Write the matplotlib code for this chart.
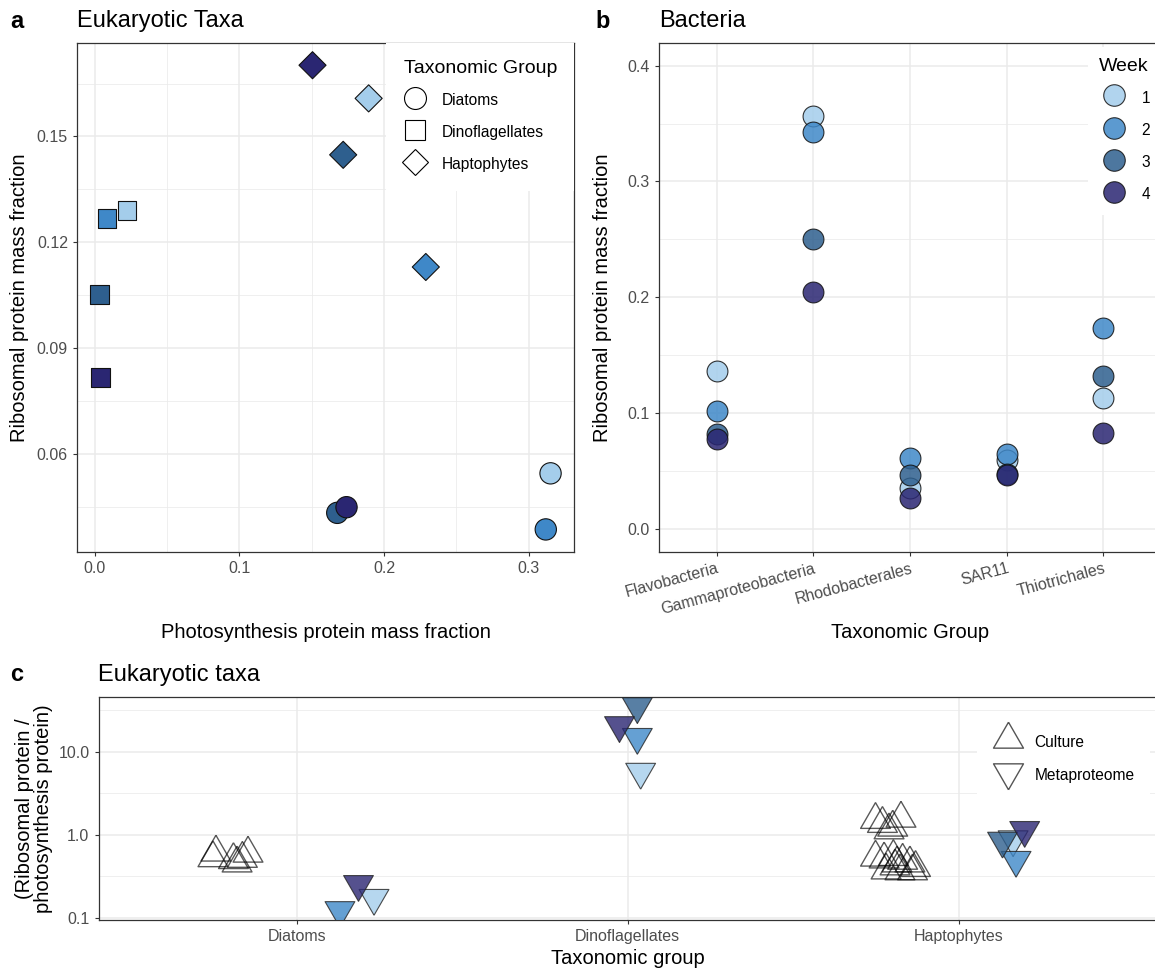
import matplotlib
matplotlib.use("Agg")
import matplotlib.pyplot as plt
from matplotlib.lines import Line2D
from matplotlib.ticker import FixedLocator, NullFormatter

plt.rcParams['font.family'] = ['Liberation Sans', 'DejaVu Sans']

W, H = 1155, 969

week_names = ['1', '2', '3', '4']
week_colors = ['#a4cdeb', '#3f88c8', '#2e5f8e', '#2a2672']

# panel a: eukaryotic taxa (photosynthesis vs ribosomal protein mass fraction)
diatom_photo = [0.1676, 0.1740, 0.3150, 0.3117]
diatom_ribo = [0.0433, 0.0449, 0.0545, 0.0386]
diatom_week = [3, 4, 1, 2]
dino_photo = [0.0084, 0.0224, 0.0031, 0.0038]
dino_ribo = [0.1268, 0.1290, 0.1052, 0.0816]
dino_week = [2, 1, 3, 4]
hapto_photo = [0.1505, 0.1893, 0.1717, 0.2288]
hapto_ribo = [0.1702, 0.1608, 0.1448, 0.1130]
hapto_week = [4, 1, 3, 2]

# panel b: bacteria
bact_groups = ['Flavobacteria', 'Gammaproteobacteria', 'Rhodobacterales', 'SAR11', 'Thiotrichales']
bact_week1 = [0.1359, 0.3568, 0.0353, 0.0590, 0.1129]
bact_week2 = [0.1020, 0.3427, 0.0609, 0.0647, 0.1733]
bact_week3 = [0.0815, 0.2502, 0.0460, 0.0474, 0.1322]
bact_week4 = [0.0775, 0.2049, 0.0264, 0.0460, 0.0825]

# panel c: ratio ribosomal / photosynthesis, culture vs metaproteome
euk_groups = ['Diatoms', 'Dinoflagellates', 'Haptophytes']
culture_group = [0] * 6 + [2] * 16
culture_jitter = [-0.245, -0.254, -0.192, -0.181, -0.148, -0.165,
                  -0.251, -0.230, -0.174, -0.210, -0.199,
                  -0.251, -0.225, -0.197, -0.186, -0.169, -0.147,
                  -0.130, -0.219, -0.177, -0.139, -0.192]
culture_ratio = [0.69, 0.59, 0.56, 0.51, 0.67, 0.58,
                 1.71, 1.53, 1.77, 1.28, 1.38,
                 0.60, 0.57, 0.61, 0.51, 0.55, 0.51,
                 0.45, 0.42, 0.41, 0.41, 0.47]
meta_group = [0, 0, 0, 1, 1, 1, 1, 2, 2, 2, 2]
meta_week = [1, 2, 4, 1, 2, 3, 4, 1, 2, 3, 4]
meta_jitter = [0.233, 0.130, 0.186, 0.039, 0.029, 0.029, -0.025,
               0.165, 0.174, 0.133, 0.200]
meta_ratio = [0.153, 0.109, 0.225, 5.09, 13.4, 31.5, 18.6,
              0.78, 0.44, 0.75, 1.01]

# triangles: bbox-centred for the points, centroid-centred for the legend keys
tri_up = [(0, 0.433), (-0.5, -0.433), (0.5, -0.433), (0, 0.433)]
tri_down = [(0, -0.433), (-0.5, 0.433), (0.5, 0.433), (0, -0.433)]
key_up = [(0, 0.577), (-0.5, -0.289), (0.5, -0.289), (0, 0.577)]
key_down = [(0, -0.577), (-0.5, 0.289), (0.5, 0.289), (0, -0.577)]

tick_grey = '#4d4d4d'
border = '#333333'
grid_c = '#ebebeb'


def style(ax):
    ax.set_axisbelow(True)
    for s in ax.spines.values():
        s.set_color(border)
        s.set_linewidth(0.9)
    ax.tick_params(which='major', length=3, width=0.8, color=border,
                   labelsize=11.5, labelcolor=tick_grey, pad=3.5)
    ax.tick_params(which='minor', length=0)
    ax.grid(which='major', color=grid_c, linewidth=1.1)
    ax.grid(which='minor', color=grid_c, linewidth=0.55)


fig = plt.figure(figsize=(W / 100, H / 100), dpi=100)

# ---------------- panel a
ax_a = fig.add_axes([77 / W, 1 - 552 / H, (574 - 77) / W, (552 - 43) / H])
style(ax_a)
for xs, ys, wk, mk, sz in [(diatom_photo, diatom_ribo, diatom_week, 'o', 235),
                           (dino_photo, dino_ribo, dino_week, 's', 180),
                           (hapto_photo, hapto_ribo, hapto_week, 'D', 190)]:
    ax_a.scatter(xs, ys, s=sz, marker=mk, c=[week_colors[w - 1] for w in wk],
                 edgecolors='#111111', linewidths=0.8, zorder=3)
ax_a.set_xlim(-0.01224, 0.3312)
ax_a.set_ylim(0.0322, 0.1765)
ax_a.set_xticks([0.0, 0.1, 0.2, 0.3])
ax_a.set_xticklabels(['0.0', '0.1', '0.2', '0.3'])
ax_a.set_yticks([0.06, 0.09, 0.12, 0.15])
ax_a.set_yticklabels(['0.06', '0.09', '0.12', '0.15'])
ax_a.xaxis.set_minor_locator(FixedLocator([0.05, 0.15, 0.25]))
ax_a.yaxis.set_minor_locator(FixedLocator([0.045, 0.075, 0.105, 0.135, 0.165]))
ax_a.set_xlabel('Photosynthesis protein mass fraction', fontsize=14.5)
ax_a.set_ylabel('Ribosomal protein mass fraction', fontsize=14.5)
ax_a.xaxis.set_label_coords(0.5, -80 / 509)
ax_a.xaxis.label.set_va('center')
ax_a.yaxis.set_label_coords(-57 / 497, 0.5)
ax_a.yaxis.label.set_va('center')
ax_a.set_title('Eukaryotic Taxa', loc='left', fontsize=17, pad=11.5)

leg_a = [Line2D([], [], marker='o', ls='none', markersize=15.8, mfc='white', mec='black', mew=0.8),
         Line2D([], [], marker='s', ls='none', markersize=13.7, mfc='white', mec='black', mew=0.8),
         Line2D([], [], marker='D', ls='none', markersize=13.7, mfc='white', mec='black', mew=0.8)]
ax_a.legend(leg_a, euk_groups, title='Taxonomic Group', loc='upper right',
            bbox_to_anchor=(1, 1), fontsize=11.2, title_fontsize=14,
            frameon=True, fancybox=False, framealpha=1, edgecolor='none',
            borderpad=1.1, handlelength=1.45, handletextpad=1.0,
            handleheight=1.5, labelspacing=0.85, alignment='left',
            borderaxespad=0)

# ---------------- panel b
ax_b = fig.add_axes([659 / W, 1 - 552 / H, (1161 - 659) / W, (552 - 43) / H])
style(ax_b)
bx = list(range(1, len(bact_groups) + 1))
for vals, col in zip([bact_week1, bact_week2, bact_week3, bact_week4], week_colors):
    ax_b.scatter(bx, vals, s=225, c=col, alpha=0.85, edgecolors='#111111',
                 linewidths=0.8, zorder=3)
ax_b.set_xlim(0.4, 5.6)
ax_b.set_ylim(-0.0201, 0.4196)
ax_b.set_xticks(bx)
ax_b.set_xticklabels(bact_groups, rotation=15, ha='right', va='top',
                     rotation_mode='anchor')
ax_b.set_yticks([0.0, 0.1, 0.2, 0.3, 0.4])
ax_b.set_yticklabels(['0.0', '0.1', '0.2', '0.3', '0.4'])
ax_b.yaxis.set_minor_locator(FixedLocator([0.05, 0.15, 0.25, 0.35]))
ax_b.set_xlabel('Taxonomic Group', fontsize=14.5)
ax_b.set_ylabel('Ribosomal protein mass fraction', fontsize=14.5)
ax_b.xaxis.set_label_coords(0.5, -80 / 509)
ax_b.xaxis.label.set_va('center')
ax_b.yaxis.set_label_coords(-56 / 502, 0.5)
ax_b.yaxis.label.set_va('center')
ax_b.set_title('Bacteria', loc='left', fontsize=17, pad=11.5)

leg_b = [Line2D([], [], marker='o', ls='none', markersize=15.5, mfc=c, mec='#111111',
                mew=0.8, alpha=0.85) for c in week_colors]
ax_b.legend(leg_b, week_names, title='Week', loc='upper right',
            bbox_to_anchor=(1, 1 - 4 / 509), fontsize=11.2, title_fontsize=14,
            frameon=True, fancybox=False, framealpha=1, edgecolor='none',
            borderpad=0.7, handlelength=2.0, handletextpad=0.75,
            handleheight=1.5, labelspacing=0.85, alignment='left',
            borderaxespad=0)

# ---------------- panel c
ax_c = fig.add_axes([98.5 / W, 1 - 920 / H, (1157 - 98.5) / W, (920 - 697) / H])
style(ax_c)
ax_c.set_yscale('log')
cx = [g + 1 + j for g, j in zip(culture_group, culture_jitter)]
ax_c.scatter(cx, culture_ratio, s=460, marker=tri_up, facecolors='none',
             edgecolors=(0, 0, 0, 0.65), linewidths=1.0, zorder=3)
mx = [g + 1 + j for g, j in zip(meta_group, meta_jitter)]
ax_c.scatter(mx, meta_ratio, s=460, marker=tri_down,
             c=[week_colors[w - 1] for w in meta_week], alpha=0.8,
             edgecolors='#222222', linewidths=0.8, zorder=3)
ax_c.set_xlim(0.4, 3.6)
ax_c.set_ylim(0.0937, 46.0)
ax_c.set_xticks([1, 2, 3])
ax_c.set_xticklabels(euk_groups)
ax_c.set_yticks([0.1, 1, 10])
ax_c.set_yticklabels(['0.1', '1.0', '10.0'])
ax_c.yaxis.set_minor_locator(FixedLocator([10 ** -0.5, 10 ** 0.5, 10 ** 1.5]))
ax_c.yaxis.set_minor_formatter(NullFormatter())
ax_c.tick_params(which='minor', length=0)
ax_c.set_xlabel('Taxonomic group', fontsize=14.5)
ax_c.set_ylabel('(Ribosomal protein /\nphotosynthesis protein)', fontsize=14.5,
                linespacing=1.0)
ax_c.xaxis.set_label_coords(0.5, -38 / 223)
ax_c.xaxis.label.set_va('center')
ax_c.yaxis.set_label_coords(-64.5 / 1058, 0.5)
ax_c.yaxis.label.set_va('center')
ax_c.set_title('Eukaryotic taxa', loc='left', fontsize=17, pad=11.5)

leg_c = [Line2D([], [], marker=key_up, ls='none', markersize=24.9, mfc='none',
                mec='#555555', mew=1.0),
         Line2D([], [], marker=key_down, ls='none', markersize=24.9, mfc='none',
                mec='#555555', mew=1.0)]
ax_c.legend(leg_c, ['Culture', 'Metaproteome'], loc='upper right',
            bbox_to_anchor=(0.9934, 0.919), fontsize=11.2,
            frameon=True, fancybox=False, framealpha=1, edgecolor='none',
            borderpad=1.0, handlelength=2.0, handletextpad=0.7,
            handleheight=1.9, labelspacing=0.65, borderaxespad=0)

# panel letters
fig.text(10 / W, 1 - 28 / H, 'a', fontsize=17, fontweight='bold', va='baseline')
fig.text(595 / W, 1 - 28 / H, 'b', fontsize=17, fontweight='bold', va='baseline')
fig.text(10 / W, 1 - 681 / H, 'c', fontsize=17, fontweight='bold', va='baseline')

fig.savefig('out.png', dpi=100)
